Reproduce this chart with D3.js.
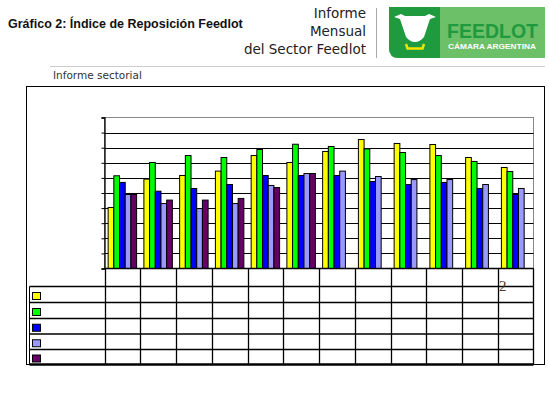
<!DOCTYPE html>
<html>
<head>
<meta charset="utf-8">
<script src="https://cdn.jsdelivr.net/npm/d3@7"></script>
<style>
  body { margin: 0; background: #fff; }
  svg { display: block; }
</style>
</head>
<body>
<svg id="chart" width="549" height="396"></svg>
<script>
// categories (the table's header row is blank in the source)
const categories = ["c1", "c2", "c3", "c4", "c5", "c6", "c7", "c8", "c9", "c10", "c11", "c12"];
const categoryLabels = ["", "", "", "", "", "", "", "", "", "", "", ""];
const seriesNames = ["", "", "", "", ""];
const seriesColors = ["#ffff00", "#00ff00", "#0000ff", "#9999ff", "#660066"];

// values in gridline units
const yellowValues = [4.04, 5.92, 6.16, 6.45, 7.48, 7.02, 7.75, 8.54, 8.28, 8.21, 7.35, 6.69];
const greenValues = [6.14, 7.02, 7.48, 7.35, 7.88, 8.23, 8.08, 7.92, 7.68, 7.48, 7.09, 6.42];
const blueValues = [5.70, 5.12, 5.30, 5.56, 6.16, 6.16, 6.16, 5.76, 5.56, 5.70, 5.30, 4.90];
const lavenderValues = [4.90, 4.30, 3.97, 4.30, 5.50, 6.29, 6.45, 6.09, 5.89, 5.89, 5.56, 5.30];
const purpleValues = [4.90, 4.53, 4.53, 4.64, 5.36, 6.29, null, null, null, null, null, null];
const yTicks = [0, 1, 2, 3, 4, 5, 6, 7, 8, 9, 10];

const allSeries = [yellowValues, greenValues, blueValues, lavenderValues, purpleValues];

const svg = d3.select("#chart");

// ---- page header ----
svg.append("text")
  .attr("x", 8).attr("y", 28)
  .attr("font-family", "Liberation Sans, Arial, sans-serif")
  .attr("font-weight", "bold").attr("font-size", 12.5)
  .attr("fill", "#111")
  .text("Gráfico 2: Índice de Reposición Feedlot");

const headerLines = ["Informe", "Mensual", "del Sector Feedlot"];
svg.append("g").selectAll("text").data(headerLines).join("text")
  .attr("x", 366).attr("y", (d, i) => 18 + i * 18)
  .attr("text-anchor", "end")
  .attr("font-family", "DejaVu Sans, Verdana, sans-serif")
  .attr("font-size", 13.5)
  .attr("fill", "#222")
  .text(d => d);

svg.append("line")
  .attr("x1", 376.5).attr("x2", 376.5).attr("y1", 8).attr("y2", 58)
  .attr("stroke", "#aaa");

// logo
const logo = svg.append("g");
logo.append("path")
  .attr("d", "M389,7 H545 V58 H399 Q389,58 389,48 Z")
  .attr("fill", "#6cc068");
logo.append("path")
  .attr("d", "M389,7 H440 V58 H399 Q389,58 389,48 Z")
  .attr("fill", "#1f9a3e");
// cow head with ears
logo.append("path")
  .attr("d", "M394,17 L401,14 L405,16 L425,16 L429,14 L436,17 L430,19 L424,37 Q420,42 415,42 Q410,42 406,37 L400,19 Z")
  .attr("fill", "#fff");
logo.append("path")
  .attr("d", "M406,44 L407.5,48.5 L422.5,48.5 L424,44")
  .attr("fill", "none").attr("stroke", "#f2e600").attr("stroke-width", 2.5);
logo.append("text")
  .attr("x", 447).attr("y", 38)
  .attr("font-family", "Liberation Sans, Arial, sans-serif")
  .attr("font-weight", "bold").attr("font-size", 21)
  .attr("fill", "#1f9a3e")
  .attr("textLength", 91).attr("lengthAdjust", "spacingAndGlyphs")
  .text("FEEDLOT");
logo.append("text")
  .attr("x", 448).attr("y", 49)
  .attr("font-family", "Liberation Sans, Arial, sans-serif")
  .attr("font-weight", "bold").attr("font-size", 7)
  .attr("fill", "#fff")
  .attr("textLength", 88).attr("lengthAdjust", "spacingAndGlyphs")
  .text("CÁMARA ARGENTINA");

svg.append("line")
  .attr("x1", 50).attr("x2", 545).attr("y1", 66.5).attr("y2", 66.5)
  .attr("stroke", "#ccc");
svg.append("text")
  .attr("x", 53).attr("y", 79)
  .attr("font-family", "DejaVu Sans, Verdana, sans-serif")
  .attr("font-size", 10.5)
  .attr("fill", "#333")
  .text("Informe sectorial");

// outer frame
svg.append("rect")
  .attr("x", 26.5).attr("y", 86.5).attr("width", 518).attr("height", 278)
  .attr("fill", "none").attr("stroke", "#000");

// ---- chart ----
const plotLeft = 104.5, plotRight = 533.5, plotTop = 117.5, plotBottom = 268.5;

const x = d3.scaleBand().domain(categories).range([plotLeft, plotRight]).padding(0);
const x1 = d3.scaleBand().domain(d3.range(allSeries.length))
  .range([0, x.bandwidth()]).paddingInner(0).paddingOuter(0.64);
const y = d3.scaleLinear().domain([0, 10]).range([plotBottom, plotTop]);

// plot area border (gray) and gridlines
svg.append("rect")
  .attr("x", plotLeft).attr("y", plotTop)
  .attr("width", plotRight - plotLeft).attr("height", plotBottom - plotTop)
  .attr("fill", "#fff").attr("stroke", "#888");

svg.append("g").selectAll("line").data(yTicks.slice(1, -1)).join("line")
  .attr("x1", plotLeft).attr("x2", plotRight)
  .attr("y1", d => Math.round(y(d)) + 0.5).attr("y2", d => Math.round(y(d)) + 0.5)
  .attr("stroke", "#000").attr("stroke-width", 1.2);

// bars
const barGroups = svg.append("g").selectAll("g").data(allSeries).join("g")
  .attr("fill", (d, i) => seriesColors[i]);
barGroups.each(function (values, si) {
  d3.select(this).selectAll("rect")
    .data(values.map((v, ci) => ({ v, ci })).filter(d => d.v !== null))
    .join("rect")
    .attr("x", d => x(categories[d.ci]) + x1(si))
    .attr("y", d => y(d.v))
    .attr("width", x1.bandwidth())
    .attr("height", d => y(0) - y(d.v))
    .attr("stroke", "#000").attr("stroke-width", 1);
});

// y axis (no labels)
const yAxis = d3.axisLeft(y).tickValues(yTicks).tickSize(3).tickFormat("");
svg.append("g")
  .attr("transform", `translate(${plotLeft},0)`)
  .call(yAxis)
  .call(g => g.select(".domain").attr("stroke", "#000").attr("stroke-width", 1.3))
  .call(g => g.selectAll(".tick line").attr("stroke", "#000"));

// baseline
svg.append("line")
  .attr("x1", plotLeft).attr("x2", plotRight)
  .attr("y1", plotBottom).attr("y2", plotBottom)
  .attr("stroke", "#000").attr("stroke-width", 1.3);

// ---- data table ----
const tableLeft = 29.5;
const rowLines = [286.5, 302.5, 318.5, 334, 349.5];
const tableBottom = 364.5;

const table = svg.append("g").attr("stroke", "#000");
// column lines
table.selectAll("line.col")
  .data(categories.concat(["end"]))
  .join("line")
  .attr("class", "col")
  .attr("x1", (d, i) => i < categories.length ? Math.round(x(d)) + 0.5 : plotRight)
  .attr("x2", (d, i) => i < categories.length ? Math.round(x(d)) + 0.5 : plotRight)
  .attr("y1", plotBottom).attr("y2", tableBottom)
  .attr("stroke-width", 1.3);
table.append("line")
  .attr("x1", tableLeft).attr("x2", tableLeft)
  .attr("y1", rowLines[0]).attr("y2", tableBottom);
table.selectAll("line.row").data(rowLines).join("line")
  .attr("class", "row")
  .attr("x1", tableLeft).attr("x2", plotRight)
  .attr("y1", d => d).attr("y2", d => d)
  .attr("stroke-width", 1.3);
table.append("line")
  .attr("x1", tableLeft).attr("x2", plotRight)
  .attr("y1", tableBottom).attr("y2", tableBottom)
  .attr("stroke-width", 2.5);

// header labels (blank)
svg.append("g").selectAll("text").data(categoryLabels).join("text")
  .attr("x", (d, i) => x(categories[i]) + x.bandwidth() / 2)
  .attr("y", 281).attr("text-anchor", "middle")
  .attr("font-size", 9)
  .text(d => d);

// legend keys
const rowTops = rowLines.concat([tableBottom]);
svg.append("g").selectAll("rect").data(seriesNames).join("rect")
  .attr("x", 32.5)
  .attr("y", (d, i) => (rowTops[i] + rowTops[i + 1]) / 2 - 2)
  .attr("width", 8).attr("height", 7)
  .attr("fill", (d, i) => seriesColors[i])
  .attr("stroke", "#000");
svg.append("g").selectAll("text").data(seriesNames).join("text")
  .attr("x", 45)
  .attr("y", (d, i) => (rowTops[i] + rowTops[i + 1]) / 2 + 4)
  .attr("font-size", 9)
  .text(d => d);

// stray page number
svg.append("text")
  .attr("x", 499).attr("y", 291)
  .attr("font-family", "Liberation Serif, Times New Roman, serif")
  .attr("font-size", 15)
  .attr("fill", "#4a3a2a")
  .text("2");
</script>
</body>
</html>
